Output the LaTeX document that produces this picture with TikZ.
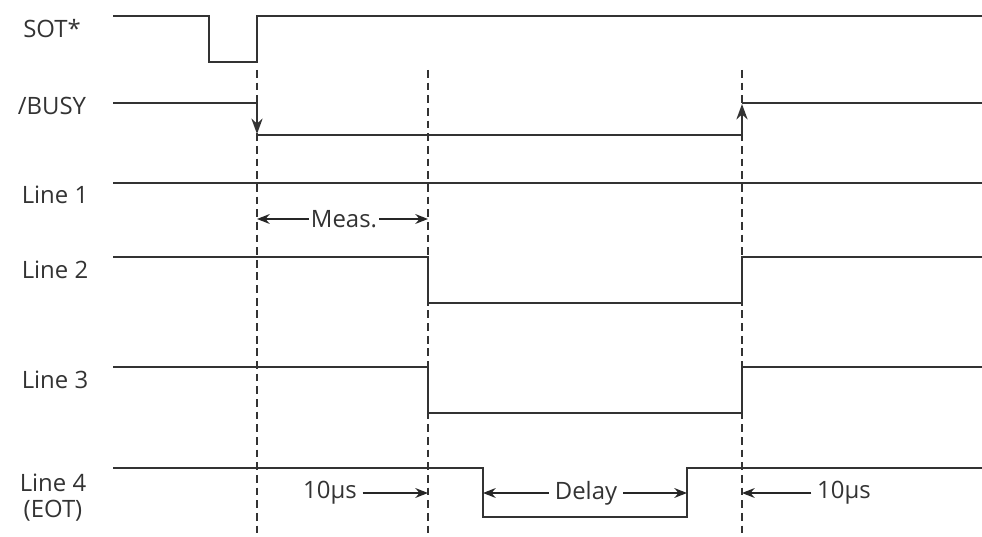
\documentclass[tikz,border=0pt]{standalone}
\usepackage{fontspec}
\setmainfont{Open Sans}
\usetikzlibrary{arrows.meta}
\begin{document}
\begin{tikzpicture}[x=0.025cm, y=-0.025cm, font=\fontsize{17}{18.5}\selectfont, line join=miter, >={Stealth[length=9pt,width=7pt]},
		signal/.style={line width=1.4pt, draw=black!80},
		edge/.style={line width=1.4pt, draw=black!80, -{Stealth[length=11pt,width=8pt]}},
		guide/.style={line width=1pt, dash pattern=on 5.5pt off 3.5pt, draw=black!80},
		dim/.style={line width=1pt, ->, draw=black!85},
		lbl/.style={text=black!80, inner sep=0pt},
		dimlbl/.style={text=black!80, inner sep=4pt}]
			\def\xl{113} \def\xr{982} % left / right end of the traces
			\def\ta{257} \def\tb{428} \def\tc{742} % trigger, end of meas., end of line output
			\useasboundingbox (0,0) rectangle (982,537);
			\coordinate (ga) at (\ta,0); \coordinate (gb) at (\tb,0); \coordinate (gc) at (\tc,0);
			% guide lines
			\draw[guide] (\ta,70)--(\ta,537);
			\draw[guide] (\tb,70)--(\tb,537);
			\draw[guide] (\tc,70)--(\tc,537);
			% signal names
			\node[lbl] (sot) at (52,29) {SOT*};
			\node[lbl] (busy) at (52,106) {/BUSY};
			\node[lbl] (l1) at (55,195) {Line 1};
			\node[lbl] (l2) at (55,270) {Line 2};
			\node[lbl] (l3) at (55,380) {Line 3};
			\node[lbl, align=center] (l4) at (53,498) {Line 4\\(EOT)};
			% traces
			\draw[signal] (\xl,16)--(209,16)--(209,62)--(\ta,62)--(\ta,16)--(\xr,16);
			\draw[signal] (\xl,103)--(\ta,103);
			\draw[signal] (\ta,135)--(\tc,135);
			\draw[signal] (\tc,103)--(\xr,103);
			\draw[edge] (\ta,103)--(\ta,134);
			\draw[edge] (\tc,135)--(\tc,104);
			\draw[signal] (\xl,183)--(\xr,183);
			\draw[signal] (\xl,257)--(\tb,257)--(\tb,303)--(\tc,303)--(\tc,257)--(\xr,257);
			\draw[signal] (\xl,367)--(\tb,367)--(\tb,413)--(\tc,413)--(\tc,367)--(\xr,367);
			\draw[signal] (\xl,468)--(483,468)--(483,517)--(687,517)--(687,468)--(\xr,468);
			\coordinate (dl) at (483,0); \coordinate (dr) at (687,0);
			% timing marks
			\node[dimlbl, inner sep=1.5pt] (meas) at (344,219) {Meas.};
			\draw[dim] (meas) -- (meas -| ga);
			\draw[dim] (meas) -- (meas -| gb);
			\node[dimlbl] (tena) at (330,493) {10µs};
			\draw[dim] (tena) -- (tena -| gb);
			\node[dimlbl] (delay) at (586,493) {Delay};
			\draw[dim] (delay) -- (delay -| dl);
			\draw[dim] (delay) -- (delay -| dr);
			\node[dimlbl] (tenb) at (844,493) {10µs};
			\draw[dim] (tenb) -- (tenb -| gc);
		\end{tikzpicture}
\end{document}
